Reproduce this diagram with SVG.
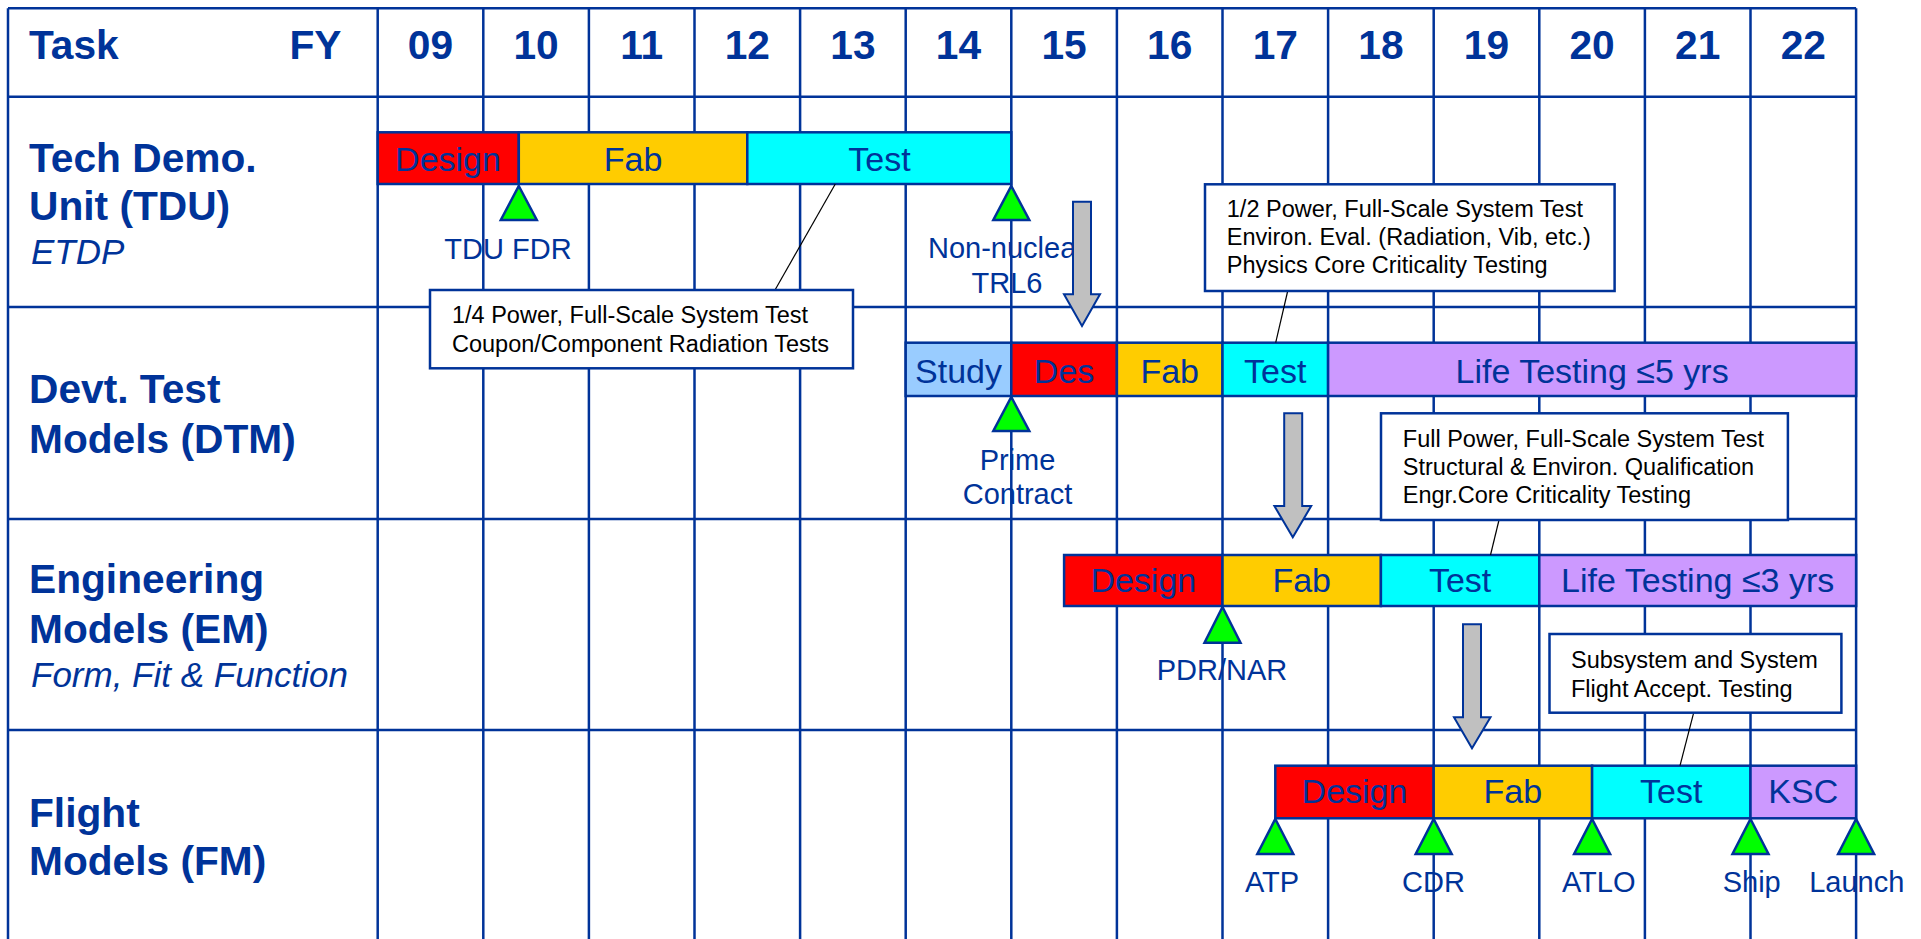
<svg xmlns="http://www.w3.org/2000/svg" width="1921" height="939" viewBox="0 0 1921 939">
<style>
.bg{fill:#ffffff}
.grid{stroke:#003399;stroke-width:2.5;fill:none}
.bar{stroke:#003399;stroke-width:2.5}
.red{fill:#ff0000}.org{fill:#ffcc00}.cyn{fill:#00ffff}.lbl{fill:#99ccff}.pur{fill:#cc99ff}
.bt{font-family:"Liberation Sans",Arial,sans-serif;font-size:34px;fill:#003399;text-anchor:middle}
.hd{font-family:"Liberation Sans",Arial,sans-serif;font-size:40.7px;font-weight:bold;fill:#003399}
.yr{text-anchor:middle}
.it{font-family:"Liberation Sans",Arial,sans-serif;font-size:35px;font-style:italic;fill:#003399}
.ms{font-family:"Liberation Sans",Arial,sans-serif;font-size:29px;fill:#003399;text-anchor:middle}
.tri{fill:#00ff00;stroke:#003399;stroke-width:2.5;stroke-linejoin:miter}
.box{fill:#ffffff;stroke:#003399;stroke-width:2.5}
.ct{font-family:"Liberation Sans",Arial,sans-serif;font-size:23.5px;fill:#000000}
.lead{stroke:#000000;stroke-width:1.2;fill:none}
.garrow{fill:#c0c0c0;stroke:#003399;stroke-width:2}
</style>
<rect class="bg" x="0" y="0" width="1921" height="939"/>
<g id="grid">
<path class="grid" d="M8,8.3H1856.1M8,96.7H1856.1M8,307H1856.1M8,519H1856.1M8,730H1856.1"/>
<path class="grid" d="M8,8.3V939M377.7,8.3V939M483.3,8.3V939M588.9,8.3V939M694.5,8.3V939M800.1,8.3V939M905.7,8.3V939M1011.3,8.3V939M1116.9,8.3V939M1222.5,8.3V939M1328.1,8.3V939M1433.7,8.3V939M1539.3,8.3V939M1644.9,8.3V939M1750.5,8.3V939M1856.1,8.3V939"/>
</g>
<g id="header">
<text class="hd" x="29" y="59">Task</text>
<text class="hd" x="341.5" y="59" text-anchor="end">FY</text>
<text class="hd yr" x="430.5" y="59">09</text>
<text class="hd yr" x="536.1" y="59">10</text>
<text class="hd yr" x="641.7" y="59">11</text>
<text class="hd yr" x="747.3" y="59">12</text>
<text class="hd yr" x="852.9" y="59">13</text>
<text class="hd yr" x="958.5" y="59">14</text>
<text class="hd yr" x="1064.1" y="59">15</text>
<text class="hd yr" x="1169.7" y="59">16</text>
<text class="hd yr" x="1275.3" y="59">17</text>
<text class="hd yr" x="1380.9" y="59">18</text>
<text class="hd yr" x="1486.5" y="59">19</text>
<text class="hd yr" x="1592.1" y="59">20</text>
<text class="hd yr" x="1697.7" y="59">21</text>
<text class="hd yr" x="1803.3" y="59">22</text>
</g>
<g id="row-labels">
<text class="hd" x="29" y="171.7">Tech Demo.</text>
<text class="hd" x="29" y="220">Unit (TDU)</text>
<text class="it" x="31" y="264">ETDP</text>
<text class="hd" x="29" y="403.3">Devt. Test</text>
<text class="hd" x="29" y="452.7">Models (DTM)</text>
<text class="hd" x="29" y="593.3">Engineering</text>
<text class="hd" x="29" y="642.7">Models (EM)</text>
<text class="it" x="31" y="686.7">Form, Fit &amp; Function</text>
<text class="hd" x="29" y="826.7">Flight</text>
<text class="hd" x="29" y="875">Models (FM)</text>
</g>
<g id="tdu-bars">
<rect class="bar red" x="377.7" y="132.3" width="141.1" height="51.7"/>
<rect class="bar org" x="518.8" y="132.3" width="228.5" height="51.7"/>
<rect class="bar cyn" x="747.3" y="132.3" width="264" height="51.7"/>
<text class="bt" x="448" y="170.5">Design</text>
<text class="bt" x="633" y="170.5">Fab</text>
<text class="bt" x="879.5" y="170.5">Test</text>
</g>
<g id="dtm-bars">
<rect class="bar lbl" x="905.7" y="342.7" width="105.6" height="53.3"/>
<rect class="bar red" x="1011.3" y="342.7" width="105.6" height="53.3"/>
<rect class="bar org" x="1116.9" y="342.7" width="105.6" height="53.3"/>
<rect class="bar cyn" x="1222.5" y="342.7" width="105.6" height="53.3"/>
<rect class="bar pur" x="1328.1" y="342.7" width="528" height="53.3"/>
<text class="bt" x="958.5" y="382.5">Study</text>
<text class="bt" x="1064.1" y="382.5">Des</text>
<text class="bt" x="1169.7" y="382.5">Fab</text>
<text class="bt" x="1275.3" y="382.5">Test</text>
<text class="bt" x="1592.1" y="382.5">Life Testing ≤5 yrs</text>
</g>
<g id="em-bars">
<rect class="bar red" x="1064.1" y="555" width="158.4" height="51"/>
<rect class="bar org" x="1222.5" y="555" width="158.4" height="51"/>
<rect class="bar cyn" x="1380.9" y="555" width="158.4" height="51"/>
<rect class="bar pur" x="1539.3" y="555" width="316.8" height="51"/>
<text class="bt" x="1143.3" y="592">Design</text>
<text class="bt" x="1301.7" y="592">Fab</text>
<text class="bt" x="1460.1" y="592">Test</text>
<text class="bt" x="1697.7" y="592">Life Testing ≤3 yrs</text>
</g>
<g id="fm-bars">
<rect class="bar red" x="1275.3" y="765.7" width="158.4" height="52.6"/>
<rect class="bar org" x="1433.7" y="765.7" width="158.4" height="52.6"/>
<rect class="bar cyn" x="1592.1" y="765.7" width="158.4" height="52.6"/>
<rect class="bar pur" x="1750.5" y="765.7" width="105.6" height="52.6"/>
<text class="bt" x="1354.5" y="803">Design</text>
<text class="bt" x="1512.9" y="803">Fab</text>
<text class="bt" x="1671.3" y="803">Test</text>
<text class="bt" x="1803.3" y="803">KSC</text>
</g>
<g id="connectors">
<line class="lead" x1="835.3" y1="184" x2="775" y2="290"/>
<line class="lead" x1="1287.7" y1="291" x2="1275.7" y2="342.7"/>
<line class="lead" x1="1499" y1="520" x2="1490.5" y2="555"/>
<line class="lead" x1="1693.7" y1="712.7" x2="1680" y2="765.7"/>
</g>
<g id="callout-tdu">
<rect class="box" x="430" y="290" width="423" height="78.3"/>
<text class="ct" x="452" y="323.3">1/4 Power, Full-Scale System Test</text>
<text class="ct" x="452" y="351.7">Coupon/Component Radiation Tests</text>
</g>
<g id="callout-dtm">
<rect class="box" x="1205" y="184.3" width="409.6" height="106.7"/>
<text class="ct" x="1226.8" y="217.3">1/2 Power, Full-Scale System Test</text>
<text class="ct" x="1226.8" y="245">Environ. Eval. (Radiation, Vib, etc.)</text>
<text class="ct" x="1226.8" y="273.3">Physics Core Criticality Testing</text>
</g>
<g id="callout-em">
<rect class="box" x="1381" y="413.3" width="406.9" height="106.7"/>
<text class="ct" x="1402.8" y="446.7">Full Power, Full-Scale System Test</text>
<text class="ct" x="1402.8" y="475">Structural &amp; Environ. Qualification</text>
<text class="ct" x="1402.8" y="502.7">Engr.Core Criticality Testing</text>
</g>
<g id="callout-fm">
<rect class="box" x="1549.5" y="634" width="291.9" height="78.7"/>
<text class="ct" x="1571" y="668.3">Subsystem and System</text>
<text class="ct" x="1571" y="696.7">Flight Accept. Testing</text>
</g>
<g id="milestone-tdu-fdr">
<polygon class="tri" points="518.8,186 536.8,220 500.8,220"/>
<text class="ms" x="508" y="259">TDU FDR</text>
</g>
<g id="milestone-trl6">
<polygon class="tri" points="1011.3,186 1029.3,220 993.3,220"/>
<text class="ms" x="1007" y="258.3">Non-nuclear</text>
<text class="ms" x="1007" y="293.3">TRL6</text>
</g>
<g id="milestone-prime">
<polygon class="tri" points="1011.3,397 1029.3,431 993.3,431"/>
<text class="ms" x="1017.5" y="470">Prime</text>
<text class="ms" x="1017.5" y="504.3">Contract</text>
</g>
<g id="milestone-pdr">
<polygon class="tri" points="1222.5,607 1240.5,642.7 1204.5,642.7"/>
<text class="ms" x="1222" y="680">PDR/NAR</text>
</g>
<g id="milestone-atp">
<polygon class="tri" points="1275.3,819 1293.3,854 1257.3,854"/>
<text class="ms" x="1272" y="891.7">ATP</text>
</g>
<g id="milestone-cdr">
<polygon class="tri" points="1433.7,819 1451.7,854 1415.7,854"/>
<text class="ms" x="1433.5" y="891.7">CDR</text>
</g>
<g id="milestone-atlo">
<polygon class="tri" points="1592.1,819 1610.1,854 1574.1,854"/>
<text class="ms" x="1598.7" y="891.7">ATLO</text>
</g>
<g id="milestone-ship">
<polygon class="tri" points="1750.5,819 1768.5,854 1732.5,854"/>
<text class="ms" x="1751.7" y="891.7">Ship</text>
</g>
<g id="milestone-launch">
<polygon class="tri" points="1856.1,819 1874.1,854 1838.1,854"/>
<text class="ms" x="1856.8" y="891.7">Launch</text>
</g>
<g id="transition-arrows">
<polygon class="garrow" points="1073,201.7 1091,201.7 1091,294.3 1100,294.3 1082,326 1064,294.3 1073,294.3"/>
<polygon class="garrow" points="1284.2,413.3 1302.2,413.3 1302.2,506 1311.2,506 1292.8,537.3 1274.4,506 1284.2,506"/>
<polygon class="garrow" points="1463,624.3 1481,624.3 1481,717.3 1490.5,717.3 1472,748.3 1454,717.3 1463,717.3"/>
</g>
</svg>
